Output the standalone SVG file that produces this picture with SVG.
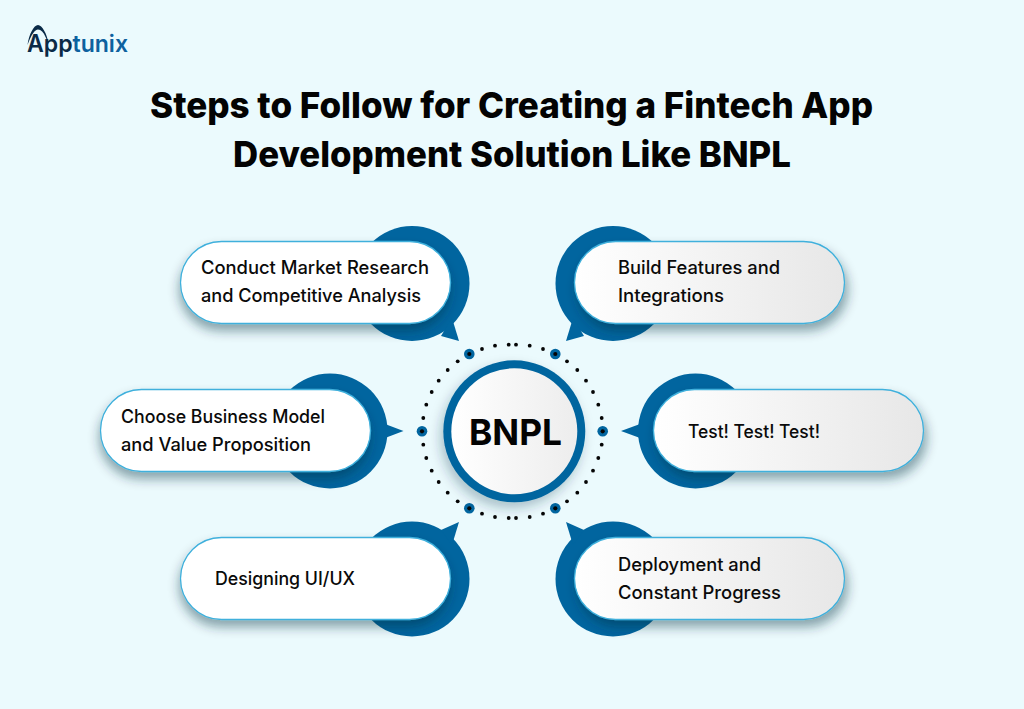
<svg xmlns="http://www.w3.org/2000/svg" width="1024" height="709" viewBox="0 0 1024 709">
<style>
.t{font-family:Inter,"Liberation Sans",sans-serif;font-size:18.4px;font-weight:450;fill:#0a0a0a}
.h{font-family:Inter,"Liberation Sans",sans-serif;font-size:35.500px;font-weight:800;fill:#030303}
.blue{fill:#01659f}
.pill{stroke:#3fb0dc;stroke-width:1.3}
.l{fill:#fff;filter:url(#ps)}
.r{fill:url(#gr);filter:url(#pr)}
.bd{fill:#01659f}
.d{fill:#050505}
</style>
<defs>
<linearGradient id="gr" x1="0" y1="0" x2="1" y2="0"><stop offset="0" stop-color="#fff"/><stop offset="1" stop-color="#e7e7e7"/></linearGradient>
<linearGradient id="gc" x1="0" y1="0" x2="1" y2="0"><stop offset="0" stop-color="#fff"/><stop offset="1" stop-color="#ededed"/></linearGradient>
<filter id="ps" x="-15%" y="-30%" width="130%" height="180%"><feDropShadow dx="-1" dy="7" stdDeviation="5.500" flood-color="#0a2c3c" flood-opacity="0.42"/></filter>
<filter id="pr" x="-15%" y="-30%" width="130%" height="180%"><feDropShadow dx="3" dy="7" stdDeviation="5.500" flood-color="#0a2c3c" flood-opacity="0.42"/></filter>
<filter id="cs" x="-30%" y="-30%" width="160%" height="160%"><feDropShadow dx="-3" dy="6" stdDeviation="6" flood-color="#0b3040" flood-opacity="0.28"/></filter>
<g id="bigdot"><circle r="5.300" class="bd"/><circle r="2.100" class="d"/></g>
</defs>
<rect width="1024" height="709" fill="#ebfafd"/>
<g id="logo">
<path d="M27.500 45C29 34 34 25 38 25C42 25 47 34 48.500 43L45.500 37C43.500 32 41 29.500 38 29.500C35 29.500 31.500 34 27.500 45Z" fill="#0a2a47"/>
<text x="27" y="52" font-family="Inter,'Liberation Sans',sans-serif" font-size="24" font-weight="600" fill="#0a2a47" textLength="101" lengthAdjust="spacingAndGlyphs">App<tspan fill="#0d619f">tunix</tspan></text>
</g>
<g id="title">
<text class="h" x="150" y="118" textLength="723" lengthAdjust="spacingAndGlyphs">Steps to Follow for Creating a Fintech App</text>
<text class="h" x="233" y="167" textLength="558" lengthAdjust="spacingAndGlyphs">Development Solution Like BNPL</text>
</g>
<g id="connectors">
<g class="d">
<circle cx="482" cy="349" r="1.900"/><circle cx="495" cy="345.700" r="1.900"/><circle cx="508.700" cy="344.700" r="1.900"/><circle cx="516" cy="344.700" r="1.900"/><circle cx="529.700" cy="345.700" r="1.900"/><circle cx="543" cy="349" r="1.900"/>
<circle cx="567" cy="361.300" r="1.900"/><circle cx="577.300" cy="370" r="1.900"/><circle cx="586" cy="380.700" r="1.900"/><circle cx="593" cy="392" r="1.900"/><circle cx="598.300" cy="404.700" r="1.900"/><circle cx="601.700" cy="418" r="1.900"/>
<circle cx="601.700" cy="444.700" r="1.900"/><circle cx="598.300" cy="458" r="1.900"/><circle cx="593" cy="470.700" r="1.900"/><circle cx="586" cy="482" r="1.900"/><circle cx="577.300" cy="492.700" r="1.900"/><circle cx="567" cy="501.300" r="1.900"/>
<circle cx="543" cy="513.700" r="1.900"/><circle cx="529.700" cy="517" r="1.900"/><circle cx="516" cy="518" r="1.900"/><circle cx="508.700" cy="518" r="1.900"/><circle cx="495" cy="517" r="1.900"/><circle cx="482" cy="513.700" r="1.900"/>
<circle cx="457.700" cy="501.300" r="1.900"/><circle cx="447.700" cy="492.700" r="1.900"/><circle cx="438.700" cy="482" r="1.900"/><circle cx="431.700" cy="470.700" r="1.900"/><circle cx="426.300" cy="458" r="1.900"/><circle cx="423.300" cy="444.700" r="1.900"/>
<circle cx="423.300" cy="418" r="1.900"/><circle cx="426.300" cy="404.700" r="1.900"/><circle cx="431.700" cy="392" r="1.900"/><circle cx="438.700" cy="380.700" r="1.900"/><circle cx="447.700" cy="370" r="1.900"/><circle cx="457.700" cy="361.300" r="1.900"/>
</g>
<use href="#bigdot" x="469.300" y="354"/>
<use href="#bigdot" x="555.300" y="354"/>
<use href="#bigdot" x="422" y="431.300"/>
<use href="#bigdot" x="602.700" y="431.300"/>
<use href="#bigdot" x="469.300" y="508.300"/>
<use href="#bigdot" x="555.300" y="508.300"/>
</g>
<g id="center">
<circle cx="514.300" cy="431.300" r="71" class="blue" filter="url(#cs)"/>
<circle cx="514.300" cy="431.300" r="63" fill="url(#gc)"/>
<text x="469" y="444.500" font-family="Inter,'Liberation Sans',sans-serif" font-size="36" font-weight="700" fill="#030303" textLength="93" lengthAdjust="spacingAndGlyphs">BNPL</text>
</g>
<g id="step1">
<circle cx="412" cy="283.500" r="57.500" class="blue"/>
<path class="blue" d="M441 336L459 341L452 318Z"/>
<rect class="pill l" x="180.500" y="241.500" width="270" height="82" rx="41"/>
<text class="t" x="201" y="273.500" textLength="228" lengthAdjust="spacingAndGlyphs">Conduct Market Research</text>
<text class="t" x="201" y="301.500" textLength="220" lengthAdjust="spacingAndGlyphs">and Competitive Analysis</text>
</g>
<g id="step2">
<circle cx="613" cy="283.500" r="57.500" class="blue"/>
<path class="blue" d="M584 336L566 341L573 318Z"/>
<rect class="pill r" x="574.500" y="241.500" width="270" height="82" rx="41"/>
<text class="t" x="618" y="273.500" textLength="162" lengthAdjust="spacingAndGlyphs">Build Features and</text>
<text class="t" x="618" y="301.500" textLength="106" lengthAdjust="spacingAndGlyphs">Integrations</text>
</g>
<g id="step3">
<circle cx="330" cy="431" r="57.500" class="blue"/>
<path class="blue" d="M385 424L403.500 431L385 438Z"/>
<rect class="pill l" x="100.500" y="389.500" width="270" height="82" rx="41"/>
<text class="t" x="121" y="423" textLength="204" lengthAdjust="spacingAndGlyphs">Choose Business Model</text>
<text class="t" x="121" y="451" textLength="190" lengthAdjust="spacingAndGlyphs">and Value Proposition</text>
</g>
<g id="step4">
<circle cx="695.500" cy="431" r="57.500" class="blue"/>
<path class="blue" d="M640 424L621 431L640 438Z"/>
<rect class="pill r" x="653.500" y="389.500" width="270" height="82" rx="41"/>
<text class="t" x="688" y="437.500" textLength="132" lengthAdjust="spacingAndGlyphs">Test! Test! Test!</text>
</g>
<g id="step5">
<circle cx="412" cy="579" r="57.500" class="blue"/>
<path class="blue" d="M441 530L459 522L452 545Z"/>
<rect class="pill l" x="180.500" y="537.500" width="270" height="82" rx="41"/>
<text class="t" x="215" y="584.500" textLength="140" lengthAdjust="spacingAndGlyphs">Designing UI/UX</text>
</g>
<g id="step6">
<circle cx="613" cy="579" r="57.500" class="blue"/>
<path class="blue" d="M584 530L566 522L573 545Z"/>
<rect class="pill r" x="574.500" y="537.500" width="270" height="82" rx="41"/>
<text class="t" x="618" y="570.500" textLength="143" lengthAdjust="spacingAndGlyphs">Deployment and</text>
<text class="t" x="618" y="598.500" textLength="163" lengthAdjust="spacingAndGlyphs">Constant Progress</text>
</g>
</svg>
